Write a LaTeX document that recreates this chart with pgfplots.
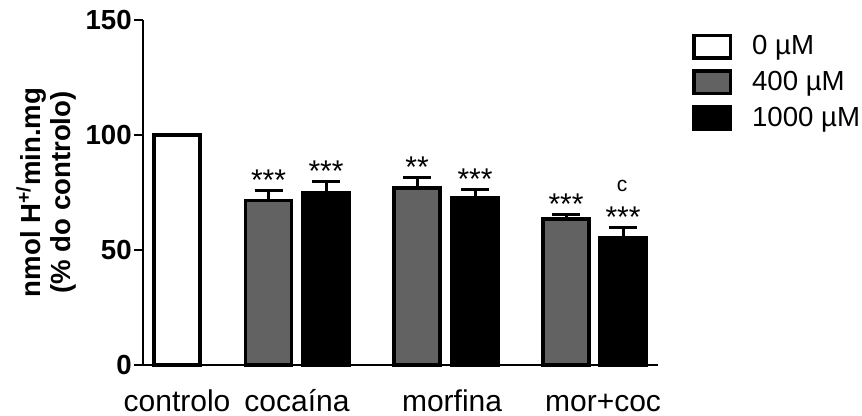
\documentclass[border=0pt]{standalone}
\usepackage{pgfplots}
\pgfplotsset{compat=1.18}
\usepackage{fontspec}
\setmainfont{Liberation Sans}
\definecolor{bargray}{RGB}{98,98,98}
\begin{document}
\begin{tikzpicture}
\begin{axis}[
  scale only axis, width=257.5pt, height=172.5pt,
  xmin=143, xmax=658, ymin=0, ymax=150,
  axis x line*=bottom, axis y line*=left,
  axis line style={-, line width=1.3pt},
  ytick={0,50,100,150},
  xtick={177,297,452,603},
  xticklabels={controlo,cocaína,morfina,mor+coc},
  x tick style={draw=none},
  y tick style={line width=1.3pt, black},
  tick align=outside, major tick length=4.5pt,
  yticklabel style={font=\fontsize{13.8}{16}\selectfont\bfseries, inner sep=1pt},
  xticklabel style={font=\fontsize{15}{18}\selectfont, anchor=base, yshift=-18.8pt, inner sep=0pt},
  /pgf/number format/assume math mode=true,
  ylabel={nmol H\textsuperscript{+/}min.mg\\(\% do controlo)},
  ylabel style={font=\fontsize{13.8}{15}\selectfont\bfseries, align=center},
  clip=false,
  ybar, bar shift=0pt, bar width=46,
  legend style={at={(rel axis cs:1.066,0.962)}, anchor=north west, draw=none, fill=none, inner sep=0pt,
    font=\fontsize{13.8}{16}\selectfont, row sep=4.9pt, nodes={inner sep=0pt}},
  legend cell align=left,
  legend image code/.code={\draw[#1, line width=1.7pt] (0.85pt,-5.65pt) rectangle (19.15pt,5.65pt); \path (29pt,0pt);},
]
\addplot[fill=white, draw=black, line width=1.7pt] coordinates {(177,100)};
\addlegendentry{0 µM}
\addplot[fill=bargray, draw=black, line width=1.7pt,
  error bars/.cd, y dir=plus, y explicit,
  error bar style={line width=1.5pt, black},
  error mark options={rotate=90, line width=1.5pt, mark size=7pt, black}]
  coordinates {(268.5,71.4) +- (0,4.3) (417,77) +- (0,4.6) (566,63.5) +- (0,2.1)};
\addlegendentry{400 µM}
\addplot[fill=black, draw=black, line width=1.7pt,
  error bars/.cd, y dir=plus, y explicit,
  error bar style={line width=1.5pt, black},
  error mark options={rotate=90, line width=1.5pt, mark size=7pt, black}]
  coordinates {(326,74.9) +- (0,5.1) (475,72.8) +- (0,3.7) (623,55.4) +- (0,4.3)};
\addlegendentry{1000 µM}
\begin{scope}[every node/.style={anchor=base, inner sep=0pt, font=\fontsize{15}{17}\selectfont}]
\node at (axis cs:268.5,75.7) {***};
\node at (axis cs:326,80) {***};
\node at (axis cs:417,81.6) {**};
\node at (axis cs:475,76.5) {***};
\node at (axis cs:566,65.6) {***};
\node at (axis cs:623,59.7) {***};
\node[font=\fontsize{10.5}{12}\selectfont] at (axis cs:622,75.3) {c};
\end{scope}
\path (rel axis cs:-0.2777,-0.146) rectangle (rel axis cs:1.396,1.058);
\end{axis}
\end{tikzpicture}
\end{document}
